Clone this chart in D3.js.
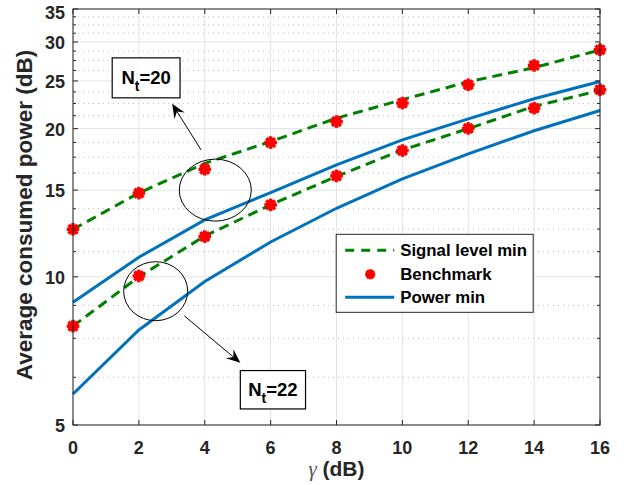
<!DOCTYPE html>
<html><head><meta charset="utf-8">
<script src="https://cdn.jsdelivr.net/npm/d3@7"></script>
<style>body{margin:0;background:#fff}svg{display:block}</style>
</head><body><svg id="c" width="631" height="485"></svg>
<script>
// ---- data ----
const gammaDB = [0, 2, 4, 6, 8, 10, 12, 14, 16];
const signalMinNt20 = [12.49, 14.8, 17.0, 18.83, 21.0, 22.9, 24.9, 26.6, 28.9];
const benchmarkNt20 = [12.49, 14.79, 16.54, 18.74, 20.67, 22.54, 24.55, 26.88, 28.92];
const powerMinNt20 = [8.88, 10.96, 13.05, 14.83, 16.88, 18.98, 20.94, 23.0, 24.93];
const signalMinNt22 = [7.94, 10.0, 12.1, 14.0, 16.0, 18.1, 20.0, 22.2, 23.9];
const benchmarkNt22 = [7.94, 10.04, 12.07, 14.0, 16.03, 18.05, 20.02, 22.01, 23.98];
const powerMinNt22 = [5.78, 7.80, 9.78, 11.77, 13.78, 15.81, 17.78, 19.8, 21.77];
const xTicks = [0, 2, 4, 6, 8, 10, 12, 14, 16];
const yTicks = [5, 10, 15, 20, 25, 30, 35];
const legendLabels = ["Signal level min", "Benchmark", "Power min"];

// ---- layout ----
const W = 631, H = 485;
const m = {left: 73, top: 9, right: 31, bottom: 60};
const pw = W - m.left - m.right, ph = H - m.top - m.bottom;
const axCol = "#262626";
const green = "#008000", red = "#ff0000", blue = "#0072BD";

const svg = d3.select("#c");
const g = svg.append("g").attr("transform", `translate(${m.left},${m.top})`);
const x = d3.scaleLinear().domain([0, 16]).range([0, pw]);
const y = d3.scaleLog().domain([5, 35]).range([ph, 0]);

// minor tick positions (4 subdivisions between majors)
const yMinor = [];
for (let i = 0; i < yTicks.length - 1; i++) {
  const step = (yTicks[i + 1] - yTicks[i]) / 4;
  for (let k = 1; k < 4; k++) yMinor.push(yTicks[i] + k * step);
}

// grid
g.append("g").selectAll("line").data(yMinor).join("line")
  .attr("x1", 0).attr("x2", pw).attr("y1", d => y(d)).attr("y2", d => y(d))
  .attr("stroke", "#bdbdbd").attr("stroke-width", 1).attr("stroke-dasharray", "1,4");
g.append("g").selectAll("line").data(yTicks).join("line")
  .attr("x1", 0).attr("x2", pw).attr("y1", d => y(d)).attr("y2", d => y(d))
  .attr("stroke", "#e3e3e3").attr("stroke-width", 1);
g.append("g").selectAll("line").data(xTicks).join("line")
  .attr("x1", d => x(d)).attr("x2", d => x(d)).attr("y1", 0).attr("y2", ph)
  .attr("stroke", "#e3e3e3").attr("stroke-width", 1);

// series
const line = d3.line().x(d => x(d[0])).y(d => y(d[1]));
function drawLine(vals, color, dash) {
  g.append("path").datum(gammaDB.map((gv, i) => [gv, vals[i]]))
    .attr("d", line).attr("fill", "none").attr("stroke", color)
    .attr("stroke-width", 3).attr("stroke-dasharray", dash || null);
}
function asterisk(sel, r) {
  for (let a = 0; a < 4; a++) {
    const ang = a * Math.PI / 4;
    sel.append("line").attr("x1", -r * Math.cos(ang)).attr("y1", -r * Math.sin(ang))
      .attr("x2", r * Math.cos(ang)).attr("y2", r * Math.sin(ang))
      .attr("stroke", red).attr("stroke-width", 3.4);
  }
  sel.append("circle").attr("r", r * 0.8).attr("fill", red);
}
function drawMarkers(vals) {
  gammaDB.forEach((gv, i) => {
    const mk = g.append("g").attr("transform", `translate(${x(gv)},${y(vals[i])})`);
    asterisk(mk, 6.3);
  });
}
drawLine(signalMinNt20, green, "10,6");
drawLine(signalMinNt22, green, "10,6");
drawMarkers(benchmarkNt20);
drawMarkers(benchmarkNt22);
drawLine(powerMinNt20, blue);
drawLine(powerMinNt22, blue);

// axes box & ticks (inward)
const ax = g.append("g").attr("stroke", axCol);
ax.append("rect").attr("x", 0).attr("y", 0).attr("width", pw).attr("height", ph)
  .attr("fill", "none").attr("stroke-width", 1);
xTicks.forEach(t => {
  ax.append("line").attr("x1", x(t)).attr("x2", x(t)).attr("y1", ph).attr("y2", ph - 5);
  ax.append("line").attr("x1", x(t)).attr("x2", x(t)).attr("y1", 0).attr("y2", 5);
});
yTicks.forEach(t => {
  ax.append("line").attr("x1", 0).attr("x2", 5).attr("y1", y(t)).attr("y2", y(t));
  ax.append("line").attr("x1", pw).attr("x2", pw - 5).attr("y1", y(t)).attr("y2", y(t));
});
yMinor.forEach(t => {
  ax.append("line").attr("x1", 0).attr("x2", 3).attr("y1", y(t)).attr("y2", y(t));
  ax.append("line").attr("x1", pw).attr("x2", pw - 3).attr("y1", y(t)).attr("y2", y(t));
});

// tick labels
const font = "'Liberation Sans', Arial, Helvetica, sans-serif";
g.append("g").selectAll("text").data(xTicks).join("text")
  .attr("x", d => x(d)).attr("y", ph + 29).attr("text-anchor", "middle")
  .attr("font-family", font).attr("font-weight", "bold").attr("font-size", 18)
  .attr("fill", axCol).text(d => d);
g.append("g").selectAll("text").data(yTicks).join("text")
  .attr("x", -8).attr("y", d => y(d) + (d === 35 ? 4 : 1)).attr("dy", "0.35em").attr("text-anchor", "end")
  .attr("font-family", font).attr("font-weight", "bold").attr("font-size", 18)
  .attr("fill", axCol).text(d => d);

// axis labels
const xl = svg.append("text").attr("x", m.left + pw / 2).attr("y", 476)
  .attr("text-anchor", "middle").attr("font-family", font).attr("font-size", 21)
  .attr("font-weight", "bold").attr("fill", axCol);
xl.append("tspan").attr("font-family", "'Liberation Serif', 'DejaVu Serif', serif")
  .attr("font-style", "italic").attr("font-weight", "normal").attr("fill", "#555").text("γ");
xl.append("tspan").text(" (dB)");
svg.append("text").attr("transform", `translate(32,${m.top + ph / 2 - 2}) rotate(-90)`)
  .attr("text-anchor", "middle").attr("font-family", font).attr("font-size", 22.5)
  .attr("font-weight", "bold").attr("fill", axCol).text("Average consumed power (dB)");

// legend
const lg = g.append("g").attr("transform", `translate(${x(8.0) - 0.3},${y(12.2)})`);
lg.append("rect").attr("x", 0).attr("y", 0).attr("width", 197).attr("height", 78)
  .attr("fill", "#fff").attr("stroke", axCol).attr("stroke-width", 1);
const rowY = [16, 40, 63];
lg.append("line").attr("x1", 9).attr("x2", 58).attr("y1", rowY[0]).attr("y2", rowY[0])
  .attr("stroke", green).attr("stroke-width", 3).attr("stroke-dasharray", "9,7");
asterisk(lg.append("g").attr("transform", `translate(34,${rowY[1]})`), 5);
lg.append("line").attr("x1", 9).attr("x2", 58).attr("y1", rowY[2]).attr("y2", rowY[2])
  .attr("stroke", blue).attr("stroke-width", 3);
legendLabels.forEach((t, i) => {
  lg.append("text").attr("x", 64).attr("y", rowY[i]).attr("dy", "0.36em")
    .attr("font-family", font).attr("font-weight", "bold").attr("font-size", 16.8)
    .attr("fill", "#000").text(t);
});

// annotations (data coordinates)
const ellipses = [{cx: 4.32, cy: 15.0, rx: 36, ry: 31}, {cx: 2.51, cy: 9.35, rx: 32, ry: 29.5}];
const arrows = [{x1: 3.89, y1: 18.1, x2: 3.01, y2: 22.46}, {x1: 3.38, y1: 8.33, x2: 5.08, y2: 6.69}];
const boxes = [{x0: 1.19, x1: 3.25, y0: 27.85, y1: 23.1, sub: "t", rest: "=20"},
               {x0: 5.08, x1: 7.06, y0: 6.45, y1: 5.39, sub: "t", rest: "=22"}];
ellipses.forEach(e => g.append("ellipse").attr("cx", x(e.cx)).attr("cy", y(e.cy))
  .attr("rx", e.rx).attr("ry", e.ry).attr("fill", "none").attr("stroke", "#000").attr("stroke-width", 1));
arrows.forEach(a => {
  const X1 = x(a.x1), Y1 = y(a.y1), X2 = x(a.x2), Y2 = y(a.y2);
  const ang = Math.atan2(Y2 - Y1, X2 - X1);
  const L = 14, Wd = 6, N = 9;
  const ux = Math.cos(ang), uy = Math.sin(ang), nx = -uy, ny = ux;
  g.append("line").attr("x1", X1).attr("y1", Y1).attr("x2", X2 - ux * N).attr("y2", Y2 - uy * N)
    .attr("stroke", "#000").attr("stroke-width", 1);
  const pts = [[X2, Y2], [X2 - ux * L + nx * Wd, Y2 - uy * L + ny * Wd], [X2 - ux * N, Y2 - uy * N],
               [X2 - ux * L - nx * Wd, Y2 - uy * L - ny * Wd]];
  g.append("path").attr("d", "M" + pts.map(p => p.join(",")).join("L") + "Z").attr("fill", "#000");
});
boxes.forEach(b => {
  const X0 = x(b.x0), X1 = x(b.x1), Y0 = y(b.y0), Y1 = y(b.y1);
  g.append("rect").attr("x", X0).attr("y", Y0).attr("width", X1 - X0).attr("height", Y1 - Y0)
    .attr("fill", "#fff").attr("stroke", "#000").attr("stroke-width", 1.2);
  const t = g.append("text").attr("x", (X0 + X1) / 2).attr("y", (Y0 + Y1) / 2 + 6)
    .attr("text-anchor", "middle").attr("font-family", font).attr("font-weight", "bold")
    .attr("font-size", 18.5).attr("fill", "#000");
  t.append("tspan").text("N");
  t.append("tspan").attr("font-size", 14).attr("dy", 7).text(b.sub);
  t.append("tspan").attr("dy", -7).text(b.rest);
});
</script></body></html>
